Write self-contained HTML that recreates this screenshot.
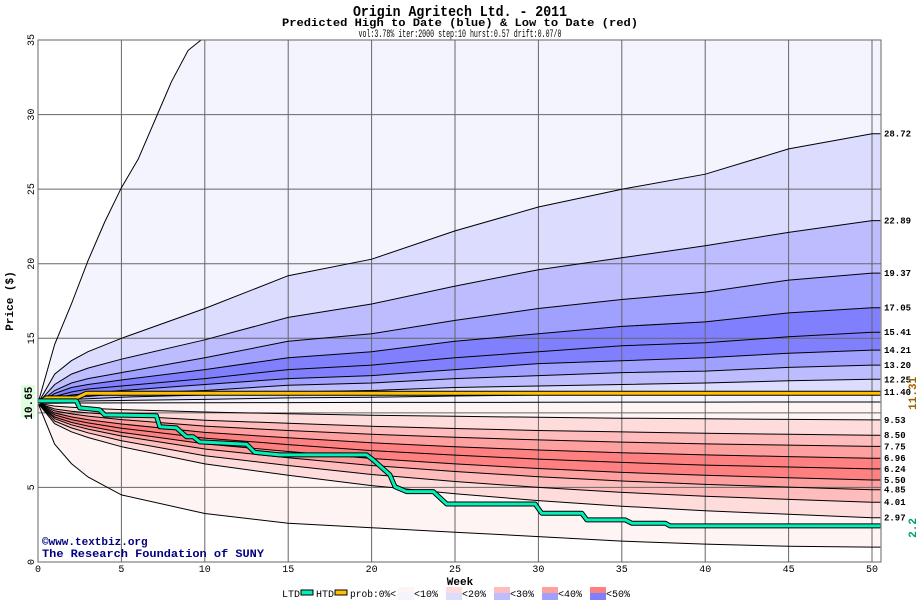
<!DOCTYPE html>
<html><head><meta charset="utf-8"><style>
html,body{margin:0;padding:0;background:#fff;width:920px;height:600px;overflow:hidden}
svg{display:block}
text{font-family:"Liberation Mono",monospace}
</style></head><body>
<svg id="chart" width="920" height="600" viewBox="0 0 920 600" xmlns="http://www.w3.org/2000/svg">
<defs><clipPath id="plotclip"><rect x="38" y="40" width="843" height="522"/></clipPath></defs>
<text x="460" y="16" text-anchor="middle" font-size="15" font-weight="bold" textLength="214" lengthAdjust="spacingAndGlyphs">Origin Agritech Ltd. - 2011</text>
<text x="460" y="26" text-anchor="middle" font-size="11" font-weight="bold" textLength="356" lengthAdjust="spacingAndGlyphs">Predicted High to Date (blue) &amp;  Low to Date (red)</text>
<text x="460" y="37" text-anchor="middle" font-size="11" textLength="203" lengthAdjust="spacingAndGlyphs">vol:3.78% iter:2000 step:10 hurst:0.57 drift:0.07/0</text>
<g id="bands" clip-path="url(#plotclip)"></g>
<g id="grid"></g>
<g id="curves" clip-path="url(#plotclip)"></g>
<g id="series" clip-path="url(#plotclip)"></g>
<rect x="38" y="40" width="843" height="522" fill="none" stroke="#666" stroke-width="1"/>
<g id="axes"></g>
<text transform="translate(13,301) rotate(-90)" text-anchor="middle" font-size="11" font-weight="bold">Price ($)</text>
<text x="460" y="585" text-anchor="middle" font-size="11" font-weight="bold">Week</text>
<text x="42" y="545" font-size="11" font-weight="bold" fill="#000080">©www.textbiz.org</text>
<text x="42" y="557" font-size="11" font-weight="bold" fill="#000080" textLength="222" lengthAdjust="spacingAndGlyphs">The Research Foundation of SUNY</text>
<g id="legend"></g>
</svg>
<script>
const weeks = [0,1,2,3,5,10,15,20,25,30,35,40,45,50,50.5];
const topWeeks = [0,1,2,3,4,5,6,7,8,9,10,50.5];
const topOuter = [10.65,14.6,17.3,20.2,22.8,25.1,27.0,29.6,32.2,34.3,35.2,60];
const u1 = [10.65,12.6,13.5,14.1,15.0,17.0,19.2,20.3,22.2,23.8,25.0,26.0,27.7,28.72,28.72];
const u2 = [10.65,11.9,12.6,13.0,13.6,14.9,16.4,17.3,18.5,19.6,20.4,21.2,22.1,22.89,22.89];
const u3 = [10.65,11.5,12.0,12.3,12.7,13.7,14.8,15.3,16.2,17.0,17.6,18.1,18.9,19.37,19.37];
const u4 = [10.65,11.3,11.7,11.9,12.2,12.9,13.7,14.1,14.8,15.3,15.8,16.1,16.7,17.05,17.05];
const u5 = [10.65,11.1,11.4,11.6,11.8,12.3,12.9,13.2,13.7,14.1,14.5,14.7,15.1,15.41,15.41];
const u6 = [10.65,11.0,11.2,11.3,11.5,11.9,12.3,12.5,12.9,13.3,13.5,13.7,14.0,14.21,14.21];
const u7 = [10.65,10.9,11.05,11.1,11.3,11.5,11.85,12.0,12.3,12.5,12.7,12.8,13.05,13.2,13.2];
const u8 = [10.65,10.8,10.9,10.95,11.05,11.2,11.4,11.5,11.7,11.8,11.9,12.0,12.15,12.25,12.25];
const u9 = [10.65,10.75,10.77,10.8,10.83,10.9,11.0,11.05,11.13,11.2,11.25,11.28,11.35,11.4,11.4];
const mid = [10.65,10.65,10.66,10.66,10.67,10.68,10.69,10.7,10.7,10.71,10.72,10.72,10.73,10.73,10.73];
const l1 = [10.65,10.45,10.37,10.31,10.22,10.06,9.94,9.84,9.77,9.7,9.64,9.6,9.56,9.53,9.53];
const l2 = [10.65,10.26,10.11,10.0,9.83,9.51,9.3,9.1,8.95,8.82,8.72,8.63,8.56,8.5,8.5];
const l3 = [10.65,10.13,9.93,9.78,9.55,9.11,8.82,8.56,8.36,8.19,8.04,7.92,7.84,7.75,7.75];
const l4 = [10.65,9.99,9.73,9.54,9.25,8.69,8.33,7.99,7.73,7.51,7.33,7.18,7.07,6.96,6.96];
const l5 = [10.65,9.86,9.55,9.33,8.97,8.31,7.87,7.47,7.17,6.9,6.68,6.5,6.37,6.24,6.24];
const l6 = [10.65,9.72,9.36,9.11,8.69,7.92,7.41,6.94,6.58,6.27,6.01,5.81,5.65,5.5,5.5];
const l7 = [10.65,9.61,9.2,8.91,8.45,7.58,6.99,6.47,6.07,5.72,5.43,5.2,5.02,4.85,4.85];
const l8 = [10.65,9.45,8.99,8.66,8.13,7.13,6.47,5.87,5.4,5.0,4.67,4.41,4.2,4.01,4.01];
const l9 = [10.65,9.27,8.73,8.35,7.73,6.58,5.81,5.12,4.58,4.12,3.74,3.43,3.2,2.97,2.97];
const bottomOuter = [10.65,7.9,6.6,5.7,4.5,3.25,2.6,2.3,2.0,1.7,1.4,1.2,1.05,1.0,1.0];
const endLabels = ["28.72","22.89","19.37","17.05","15.41","14.21","13.20","12.25","11.40","9.53","8.50","7.75","6.96","6.24","5.50","4.85","4.01","2.97"];
const htdWeeks = [0,0.5,2.3,2.9,50.5];
const htdValues = [10.65,11.0,11.0,11.31,11.31];
const ltdWeeks = [0,2.3,2.5,3.7,4.0,7.1,7.3,8.3,8.9,9.3,9.7,12.5,13.0,14.5,19.7,20.1,21.1,21.4,22.1,23.7,24.5,29.8,30.2,32.6,32.9,35.2,35.6,37.6,37.9,50.5];
const ltdValues = [10.8,10.8,10.33,10.2,9.86,9.8,9.07,8.99,8.4,8.4,8.05,7.9,7.35,7.18,7.18,6.84,5.84,5.05,4.72,4.72,3.89,3.89,3.27,3.27,2.82,2.82,2.6,2.6,2.42,2.42];
const xTicks = [0,5,10,15,20,25,30,35,40,45,50];
const yTicks = [0,5,10,15,20,25,30,35];
const legendLabels = ["<10%","<20%","<30%","<40%","<50%"];

const NS = "http://www.w3.org/2000/svg";
const X = w => 38 + w * 16.68;
const Y = v => 562 - v * 14.914;
function mk(tag, attrs, parent){ const e=document.createElementNS(NS,tag); for(const k in attrs) e.setAttribute(k,attrs[k]); parent.appendChild(e); return e; }
function pts(ws, vs){ return ws.map((w,i)=>X(w).toFixed(1)+","+Y(vs[i]).toFixed(1)); }

const bands = document.getElementById('bands');
const curveList = [[topWeeks,topOuter],[weeks,u1],[weeks,u2],[weeks,u3],[weeks,u4],[weeks,u5],[weeks,u6],[weeks,u7],[weeks,u8],[weeks,u9],[weeks,mid],[weeks,l1],[weeks,l2],[weeks,l3],[weeks,l4],[weeks,l5],[weeks,l6],[weeks,l7],[weeks,l8],[weeks,l9],[weeks,bottomOuter]];
const bandColors = ["#f4f4ff","#dcdcff","#bcbcff","#a0a0ff","#8080ff","#8080ff","#a0a0ff","#bcbcff","#dcdcff","#f4f4ff","#fff4f4","#ffdcdc","#ffbcbc","#ffa0a0","#ff8080","#ff8080","#ffa0a0","#ffbcbc","#ffdcdc","#fff4f4"];
for(let i=0;i<bandColors.length;i++){
  const a=curveList[i], b=curveList[i+1];
  const p = pts(a[0],a[1]).concat(pts(b[0],b[1]).reverse());
  const poly = mk('polygon',{points:p.join(' '),fill:bandColors[i]},bands);
  
  
}
const grid = document.getElementById('grid');
xTicks.forEach(t=>{ const l=mk('line',{x1:X(t),x2:X(t),y1:40,y2:562,stroke:'#666','stroke-width':1},grid);
    });
yTicks.forEach(t=>{ const l=mk('line',{x1:38,x2:881,y1:Y(t),y2:Y(t),stroke:'#666','stroke-width':1},grid);
    });
const curves = document.getElementById('curves');
curveList.forEach(c=>{ const pl=mk('polyline',{points:pts(c[0],c[1]).join(' '),fill:'none',stroke:'#000','stroke-width':1},curves);
    });

const series = document.getElementById('series');
function stepLine(ws,vs,color,name){
  const p=pts(ws,vs).join(' ');
  const o=mk('polyline',{points:p,fill:'none',stroke:'#000','stroke-width':5,'stroke-linejoin':'round'},series);
   
  const l=mk('polyline',{points:p,fill:'none',stroke:color,'stroke-width':3,'stroke-linejoin':'round'},series);
   
}
stepLine(htdWeeks,htdValues,'#ffc000','htd-line');
stepLine(ltdWeeks,ltdValues,'#00f0b8','ltd-line');

const axes = document.getElementById('axes');
xTicks.forEach(t=>{ const tx=mk('text',{x:X(t),y:572,'text-anchor':'middle','font-size':10},axes); tx.textContent=t;
    });
yTicks.forEach(t=>{ const tx=mk('text',{transform:`translate(34,${Y(t)}) rotate(-90)`,'text-anchor':'middle','font-size':10},axes); tx.textContent=t;
    });
const endVals = [u1,u2,u3,u4,u5,u6,u7,u8,u9,l1,l2,l3,l4,l5,l6,l7,l8,l9];
endVals.forEach((c,i)=>{ const tx=mk('text',{x:884,y:Y(c[c.length-1])+3,'font-size':9,'font-weight':'bold'},axes); tx.textContent=endLabels[i];
    });
const sb=mk('rect',{x:21,y:385,width:14,height:33,fill:'#e0ffe0'},axes);
 
const st=mk('text',{transform:`translate(32,${Y(10.65)}) rotate(-90)`,'text-anchor':'middle','font-size':11,'font-weight':'bold'},axes); st.textContent="10.65";
 
const hl=mk('text',{transform:`translate(916,${Y(htdValues[htdValues.length-1])}) rotate(-90)`,'text-anchor':'middle','font-size':11,'font-weight':'bold',fill:'#a06000'},axes); hl.textContent="11.31";
 
const ll=mk('text',{transform:`translate(916,${Y(ltdValues[ltdValues.length-1])+2}) rotate(-90)`,'text-anchor':'middle','font-size':11,'font-weight':'bold',fill:'#00a070'},axes); ll.textContent="2.2";
 

const lg = document.getElementById('legend');
function lt(x,s,name,len){ const a={x:x,y:597,'font-size':10}; if(len){a.textLength=len;a.lengthAdjust='spacingAndGlyphs';} const t=mk('text',a,lg); t.textContent=s;   }
lt(282,"LTD","legend-ltd-label");
let r=mk('rect',{x:301,y:590,width:12,height:5,fill:'#00f0b8',stroke:'#000','stroke-width':1},lg);  
lt(316,"HTD","legend-htd-label");
r=mk('rect',{x:335,y:590,width:12,height:5,fill:'#ffc000',stroke:'#000','stroke-width':1},lg);  
lt(350,"prob:0%<","legend-prob-label",46);
const pinks=["#fff4f4","#ffdcdc","#ffbcbc","#ffa0a0","#ff8080"], blues=["#f4f4ff","#dcdcff","#bcbcff","#a0a0ff","#8080ff"];
legendLabels.forEach((s,i)=>{ const x=398+i*48;
  let a=mk('rect',{x:x,y:587,width:16,height:6,fill:pinks[i]},lg);  
  let b=mk('rect',{x:x,y:593,width:16,height:7,fill:blues[i]},lg);  
  lt(x+16,s,'legend-entry'); });
</script>
</body></html>
